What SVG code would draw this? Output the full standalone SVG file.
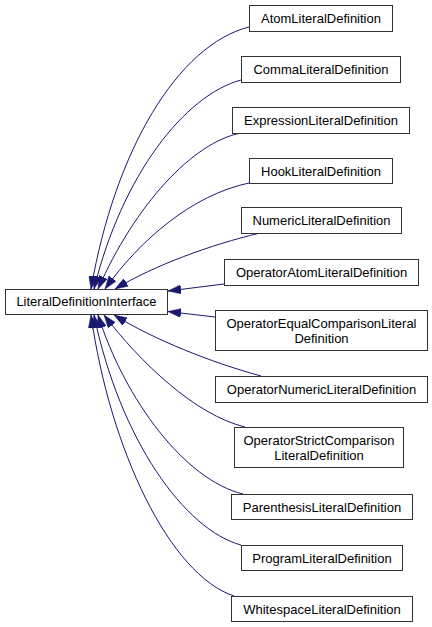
<svg xmlns="http://www.w3.org/2000/svg" width="432" height="627" viewBox="0 0 432 627">
<style>
  .box { fill: #ffffff; stroke: #333333; stroke-width: 1; }
  .lbl { font-family: "Liberation Sans", Arial, Helvetica, sans-serif; font-size: 13px; fill: #000000; text-anchor: middle; }
  .edge { fill: none; stroke: #191970; stroke-width: 1; marker-end: url(#arr); }
</style>
<defs>
  <marker id="arr" markerUnits="userSpaceOnUse" viewBox="0 0 13 9" markerWidth="13" markerHeight="9" refX="13" refY="4.5" orient="auto">
    <path d="M0,0 L13,4.5 L0,9 z" fill="#191970" stroke="#191970" stroke-width="0.5"/>
  </marker>
</defs>
<rect width="432" height="627" fill="#ffffff"/>
<g id="edges">
  <path class="edge" d="M249,27 C178,45 115,150 91,289"/>
  <path class="edge" d="M241,80 C185,95 122,175 94,289"/>
  <path class="edge" d="M241,133 C193,142 135,205 98,289"/>
  <path class="edge" d="M249,183 C192,195 140,240 105,289"/>
  <path class="edge" d="M260,233 C210,245 155,265 115,289"/>
  <path class="edge" d="M224,284 L168,291"/>
  <path class="edge" d="M215,317 L168,311.5"/>
  <path class="edge" d="M261,376 C210,362 155,340 114,315"/>
  <path class="edge" d="M245,427 C195,415 140,362 104,315"/>
  <path class="edge" d="M243,494 C185,480 125,400 98,315"/>
  <path class="edge" d="M241,545 C185,530 120,440 94,315"/>
  <path class="edge" d="M234,596 C170,575 110,450 91,315"/>
</g>
<g id="LiteralDefinitionInterface">
  <rect class="box" x="5.5" y="289.5" width="162" height="25"/>
  <text class="lbl" x="86.5" y="306">LiteralDefinitionInterface</text>
</g>
<g id="AtomLiteralDefinition">
  <rect class="box" x="249.5" y="5.5" width="143" height="26"/>
  <text class="lbl" x="321" y="23">AtomLiteralDefinition</text>
</g>
<g id="CommaLiteralDefinition">
  <rect class="box" x="241.5" y="56.5" width="159" height="26"/>
  <text class="lbl" x="321" y="74">CommaLiteralDefinition</text>
</g>
<g id="ExpressionLiteralDefinition">
  <rect class="box" x="232.5" y="107.5" width="177" height="26"/>
  <text class="lbl" x="321" y="125">ExpressionLiteralDefinition</text>
</g>
<g id="HookLiteralDefinition">
  <rect class="box" x="249.5" y="158.5" width="143" height="25"/>
  <text class="lbl" x="321" y="175.5">HookLiteralDefinition</text>
</g>
<g id="NumericLiteralDefinition">
  <rect class="box" x="241.5" y="207.5" width="160" height="26"/>
  <text class="lbl" x="321.5" y="225">NumericLiteralDefinition</text>
</g>
<g id="OperatorAtomLiteralDefinition">
  <rect class="box" x="224.5" y="259.5" width="194" height="26"/>
  <text class="lbl" x="321.5" y="277">OperatorAtomLiteralDefinition</text>
</g>
<g id="OperatorEqualComparisonLiteralDefinition">
  <rect class="box" x="215.5" y="310.5" width="212" height="40"/>
  <text class="lbl" x="321.5" y="328">OperatorEqualComparisonLiteral</text>
  <text class="lbl" x="321.5" y="342.5">Definition</text>
</g>
<g id="OperatorNumericLiteralDefinition">
  <rect class="box" x="215.5" y="376.5" width="212" height="26"/>
  <text class="lbl" x="321.5" y="394">OperatorNumericLiteralDefinition</text>
</g>
<g id="OperatorStrictComparisonLiteralDefinition">
  <rect class="box" x="234.5" y="427.5" width="169" height="40"/>
  <text class="lbl" x="319" y="445">OperatorStrictComparison</text>
  <text class="lbl" x="319" y="459.5">LiteralDefinition</text>
</g>
<g id="ParenthesisLiteralDefinition">
  <rect class="box" x="231.5" y="494.5" width="181" height="25"/>
  <text class="lbl" x="322" y="511.5">ParenthesisLiteralDefinition</text>
</g>
<g id="ProgramLiteralDefinition">
  <rect class="box" x="241.5" y="545.5" width="161" height="25"/>
  <text class="lbl" x="322" y="562.5">ProgramLiteralDefinition</text>
</g>
<g id="WhitespaceLiteralDefinition">
  <rect class="box" x="231.5" y="596.5" width="181" height="25"/>
  <text class="lbl" x="322" y="613.5">WhitespaceLiteralDefinition</text>
</g>
</svg>
